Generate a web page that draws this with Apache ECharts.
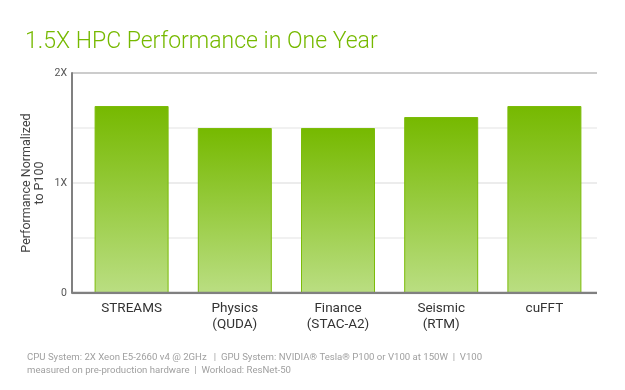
<!DOCTYPE html>
<html>
<head>
<meta charset="utf-8">
<script src="https://cdn.jsdelivr.net/npm/echarts@6/dist/echarts.min.js"></script>
<style>html,body{margin:0;padding:0;background:#fff}#c{width:625px;height:390px}</style>
</head>
<body>
<div id="c"></div>
<script>
var title = '1.5X HPC Performance in One Year';
var categories = ['STREAMS', 'Physics\n(QUDA)', 'Finance\n(STAC-A2)', 'Seismic\n(RTM)', 'cuFFT'];
var values = [1.7, 1.5, 1.5, 1.6, 1.7];
var yTickLabels = {0: '0', 1: '1X', 2: '2X'};
var yAxisNameLines = ['Performance Normalized', 'to P100'];
var footnote = 'CPU System: 2X Xeon E5-2660 v4 @ 2GHz   |  GPU System: NVIDIA\u00AE Tesla\u00AE P100 or V100 at 150W  |  V100\nmeasured on pre-production hardware  |  Workload: ResNet-50';

var chart = echarts.init(document.getElementById('c'));
var font = 'Roboto, "DejaVu Sans", sans-serif';
var nameStyle = {color: '#444', fontSize: 12.5, fontFamily: font};
chart.setOption({
  animation: false,
  title: [{
    text: title, left: 20, top: 26,
    textStyle: {color: '#76b900', fontSize: 23, fontWeight: 300, fontFamily: font}
  }, {
    text: footnote, left: 22, top: 346,
    textStyle: {color: '#a0a0a0', fontSize: 9.6, fontWeight: 'normal', fontFamily: font, lineHeight: 13}
  }],
  grid: [
    {left: 72, right: 28, top: 73, bottom: 97},
    {left: 80, right: 29, top: 73, bottom: 97}
  ],
  xAxis: [
    {type: 'value', gridIndex: 0, min: 0, max: 1, show: true,
     axisLine: {show: false}, axisTick: {show: false}, axisLabel: {show: false}, splitLine: {show: false}},
    {type: 'category', gridIndex: 1, data: categories,
     axisLine: {show: false}, axisTick: {show: false},
     axisLabel: {color: '#333', fontSize: 13.5, fontFamily: font, margin: 8, lineHeight: 16}}
  ],
  yAxis: [
    {type: 'value', gridIndex: 0, min: 0, max: 2, interval: 0.5,
     name: yAxisNameLines[0], nameLocation: 'middle', nameGap: 39, nameRotate: 90, nameTextStyle: nameStyle,
     axisLine: {show: true, lineStyle: {color: '#808080', width: 2}},
     axisTick: {show: false},
     axisLabel: {color: '#555', fontSize: 10.5, fontFamily: font, margin: 5,
       formatter: function (v) { return yTickLabels[v] !== undefined ? yTickLabels[v] : ''; }},
     splitLine: {show: true, lineStyle: {color: ['#808080', '#ececec', '#e6e6e6', '#ececec', '#bbbbbb'], width: 1.5}}
    },
    {type: 'value', gridIndex: 1, min: 0, max: 2, interval: 0.5,
     name: yAxisNameLines[1], nameLocation: 'middle', nameGap: 34, nameRotate: 90, nameTextStyle: nameStyle,
     axisLine: {show: false}, axisTick: {show: false}, axisLabel: {show: false}, splitLine: {show: false}}
  ],
  series: [{
    type: 'bar', xAxisIndex: 1, yAxisIndex: 1, data: values, barWidth: 74, z: 3,
    itemStyle: {
      color: new echarts.graphic.LinearGradient(0, 0, 0, 1, [
        {offset: 0, color: '#76b900'}, {offset: 1, color: '#bade82'}]),
      borderColor: '#7cbc0a', borderWidth: 1
    }
  }, {
    type: 'line', xAxisIndex: 0, yAxisIndex: 0, data: [[0, 0], [1, 0]], symbol: 'none', z: 4,
    lineStyle: {color: '#808080', width: 2.5}, silent: true
  }]
});
</script>
</body>
</html>
